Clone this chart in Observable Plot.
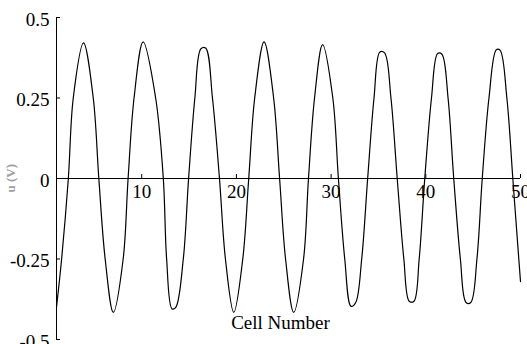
<!DOCTYPE html>
<html>
<head>
<meta charset="utf-8">
<script src="https://cdn.jsdelivr.net/npm/d3@7"></script>
<script src="https://cdn.jsdelivr.net/npm/@observablehq/plot@0.6"></script>
<style>
  html, body { margin: 0; padding: 0; background: #fff; }
</style>
</head>
<body>
<div id="chart"></div>
<script>
// Cell voltage along the string of cells
const cells = [
  1.0, 1.54, 2.25, 2.77, 3.85, 4.88, 5.47, 6.14, 7.0, 8.04,
  8.56, 9.19, 10.15, 11.47, 12.28, 12.63, 13.2, 13.6, 14.39,
  14.95, 15.61, 16.25, 16.75, 17.47, 18.21, 18.84, 19.72, 20.67,
  21.30, 21.93, 22.92, 23.93, 24.56, 25.19, 26.05, 27.09,
  27.61, 28.25, 29.1, 30.18, 30.77, 31.44, 32.1, 32.6, 33.23,
  33.86, 34.53, 35.15, 35.65, 36.32, 36.98, 37.68, 38.25, 38.75, 39.30,
  39.89, 40.60, 41.25, 41.7, 42.35, 42.95, 43.65, 44.25, 44.75, 45.40,
  45.96, 46.67, 47.45, 47.85, 48.56, 49.19, 49.82, 50.0
];
const voltage = [
  -0.40, -0.25, 0, 0.25, 0.421, 0.25, 0, -0.25, -0.416, -0.25,
  0, 0.25, 0.424, 0.25, 0, -0.25, -0.405, -0.40, -0.25,
  0, 0.25, 0.403, 0.405, 0.25, 0, -0.25, -0.416, -0.25,
  0, 0.25, 0.424, 0.25, 0, -0.25, -0.416, -0.25,
  0, 0.25, 0.416, 0.25, 0, -0.25, -0.397, -0.385, -0.25,
  0, 0.25, 0.393, 0.39, 0.25, 0, -0.25, -0.381, -0.381, -0.25,
  0, 0.25, 0.388, 0.386, 0.25, 0, -0.25, -0.385, -0.385, -0.25,
  0, 0.25, 0.40, 0.398, 0.25, 0, -0.25, -0.32
];

const xTicks = [10, 20, 30, 40, 50];
const xLabels = ["10", "20", "30", "40", "50"];
const yTicks = [-0.5, -0.25, 0, 0.25, 0.5];
const yLabels = ["-0.5", "-0.25", "0", "0.25", "0.5"];

const data = cells.map((c, i) => ({cell: c, u: voltage[i]}));

const width = 527, height = 344;
const marginLeft = 56, marginRight = 7, marginTop = 17, marginBottom = 5;
const innerW = width - marginLeft - marginRight;
const innerH = height - marginTop - marginBottom;
const tickLen = 4;
const serif = "'Liberation Serif', 'Times New Roman', serif";

const chart = Plot.plot({
  width, height, marginLeft, marginRight, marginTop, marginBottom,
  style: {fontFamily: serif, fontSize: "19px", color: "#000", background: "#fff", overflow: "visible"},
  x: {domain: [1, 50], axis: null},
  y: {domain: [-0.5, 0.5], axis: null},
  marks: [
    // y axis: line, inward ticks and labels
    Plot.ruleX([1], {stroke: "#000", strokeWidth: 1}),
    Plot.tickY(yTicks, {y: d => d, stroke: "#000", insetRight: innerW - tickLen}),
    Plot.text(yTicks, {x: () => 1, y: d => d, text: (d, i) => yLabels[i], textAnchor: "end", dx: -7, dy: 2, fill: "#000", fontFamily: serif}),
    // x axis drawn through zero, ticks pointing up, labels below
    Plot.ruleY([0], {stroke: "#000", strokeWidth: 1}),
    Plot.tickX(xTicks, {x: d => d, stroke: "#000", insetTop: innerH / 2 - tickLen, insetBottom: innerH / 2}),
    Plot.text(xTicks, {x: d => d, y: () => 0, text: (d, i) => xLabels[i], dy: 13, fill: "#000", fontFamily: serif}),
    // axis titles
    Plot.text(["Cell Number"], {frameAnchor: "bottom", dx: -8, dy: -11, fill: "#000", fontFamily: serif}),
    Plot.text(["u (V)"], {frameAnchor: "left", dx: -46, dy: 14, rotate: -90, fontSize: 13, fill: "#a0a0a0", fontFamily: serif, fontWeight: "bold"}),
    // voltage curve
    Plot.line(data, {x: "cell", y: "u", curve: "catmull-rom", stroke: "#000", strokeWidth: 1.2})
  ]
});
document.getElementById("chart").appendChild(chart);
</script>
</body>
</html>
